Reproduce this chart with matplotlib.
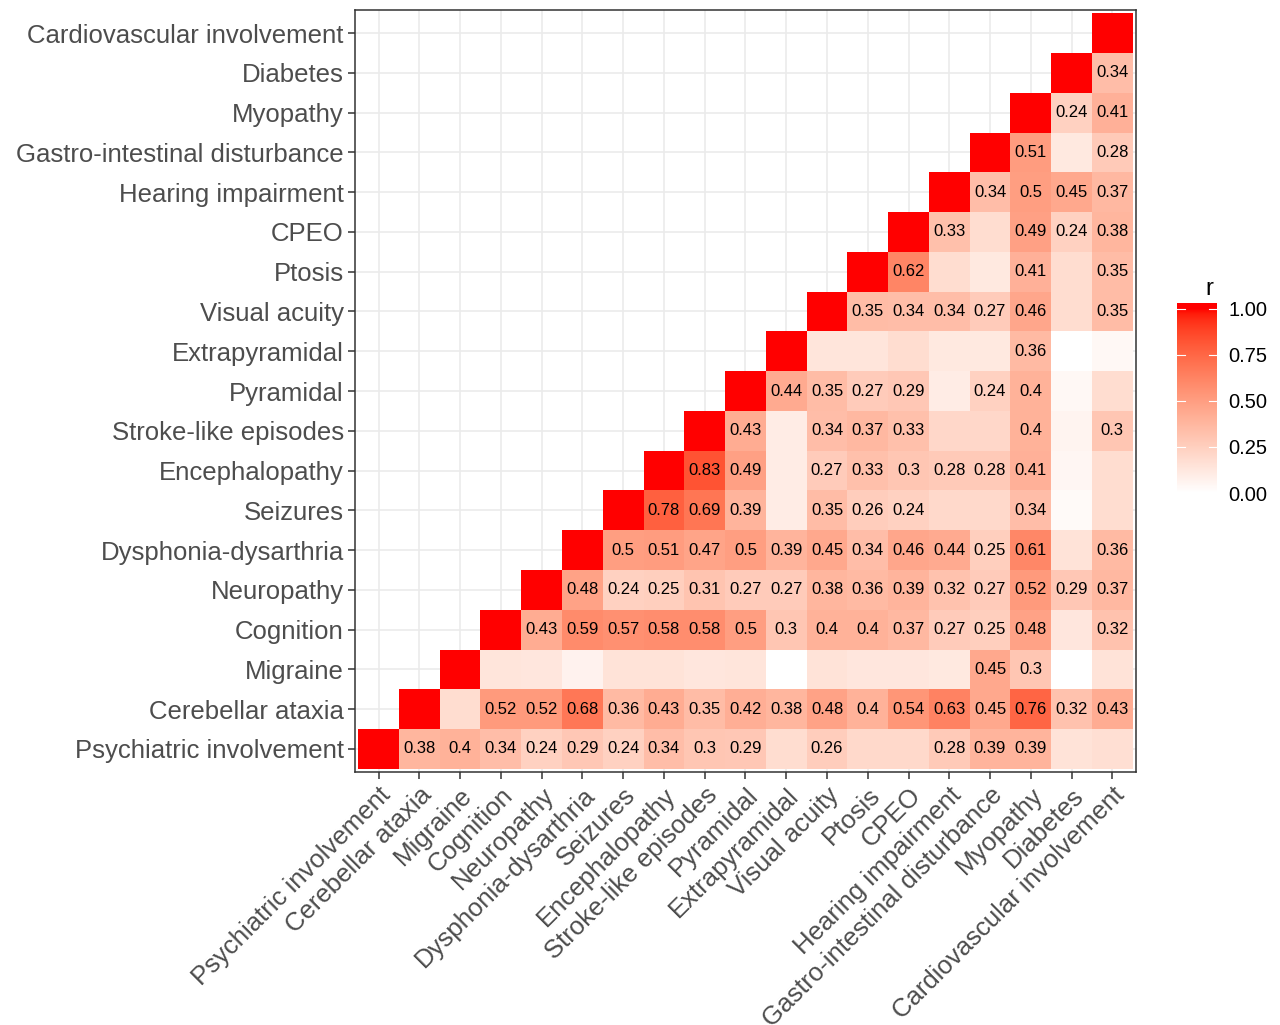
import numpy as np
import matplotlib
matplotlib.use('Agg')
import matplotlib.pyplot as plt
from matplotlib.colors import ListedColormap

plt.rcParams['font.family'] = ['Liberation Sans', 'DejaVu Sans']

# Variáveis (mesma ordem nos dois eixos)
variables = ['Psychiatric involvement', 'Cerebellar ataxia', 'Migraine', 'Cognition',
             'Neuropathy', 'Dysphonia-dysarthria', 'Seizures', 'Encephalopathy',
             'Stroke-like episodes', 'Pyramidal', 'Extrapyramidal', 'Visual acuity',
             'Ptosis', 'CPEO', 'Hearing impairment', 'Gastro-intestinal disturbance',
             'Myopathy', 'Diabetes', 'Cardiovascular involvement']

# Correlações acima da diagonal: linha j -> colunas j+1 .. 18
r_psychiatric = [0.38, 0.40, 0.34, 0.24, 0.29, 0.24, 0.34, 0.30, 0.29, 0.18, 0.26, 0.20, 0.20, 0.28, 0.39, 0.39, 0.15, 0.17]
r_cerebellar = [0.18, 0.52, 0.52, 0.68, 0.36, 0.43, 0.35, 0.42, 0.38, 0.48, 0.40, 0.54, 0.63, 0.45, 0.76, 0.32, 0.43]
r_migraine = [0.14, 0.13, 0.07, 0.15, 0.15, 0.13, 0.14, 0.00, 0.15, 0.13, 0.13, 0.12, 0.45, 0.30, 0.00, 0.15]
r_cognition = [0.43, 0.59, 0.57, 0.58, 0.58, 0.50, 0.30, 0.40, 0.40, 0.37, 0.27, 0.25, 0.48, 0.13, 0.32]
r_neuropathy = [0.48, 0.24, 0.25, 0.31, 0.27, 0.27, 0.38, 0.36, 0.39, 0.32, 0.27, 0.52, 0.29, 0.37]
r_dysphonia = [0.50, 0.51, 0.47, 0.50, 0.39, 0.45, 0.34, 0.46, 0.44, 0.25, 0.61, 0.15, 0.36]
r_seizures = [0.78, 0.69, 0.39, 0.10, 0.35, 0.26, 0.24, 0.20, 0.20, 0.34, 0.03, 0.18]
r_enceph = [0.83, 0.49, 0.10, 0.27, 0.33, 0.30, 0.28, 0.28, 0.41, 0.05, 0.18]
r_stroke = [0.43, 0.10, 0.34, 0.37, 0.33, 0.21, 0.21, 0.40, 0.06, 0.30]
r_pyramidal = [0.44, 0.35, 0.27, 0.29, 0.10, 0.24, 0.40, 0.04, 0.18]
r_extrapyr = [0.14, 0.14, 0.18, 0.12, 0.12, 0.36, 0.00, 0.04]
r_visual = [0.35, 0.34, 0.34, 0.27, 0.46, 0.18, 0.35]
r_ptosis = [0.62, 0.18, 0.12, 0.41, 0.18, 0.35]
r_cpeo = [0.33, 0.18, 0.49, 0.24, 0.38]
r_hearing = [0.34, 0.50, 0.45, 0.37]
r_gi = [0.51, 0.12, 0.28]
r_myopathy = [0.24, 0.41]
r_diabetes = [0.34]

upper_rows = [r_psychiatric, r_cerebellar, r_migraine, r_cognition, r_neuropathy,
              r_dysphonia, r_seizures, r_enceph, r_stroke, r_pyramidal, r_extrapyr,
              r_visual, r_ptosis, r_cpeo, r_hearing, r_gi, r_myopathy, r_diabetes]

sig_cutoff = 0.235  # abaixo disso a célula fica sem rótulo

n = len(variables)
mat = np.full((n, n), np.nan)
for j in range(n):
    mat[j, j] = 1.0
for j, row in enumerate(upper_rows):
    mat[j, j + 1:] = row


# Gradiente branco -> vermelho interpolado em CIELAB (como o ggplot)
def srgb_to_lab(rgb):
    c = np.asarray(rgb, float)
    c = np.where(c <= 0.04045, c / 12.92, ((c + 0.055) / 1.055) ** 2.4)
    m = np.array([[0.4124, 0.3576, 0.1805], [0.2126, 0.7152, 0.0722], [0.0193, 0.1192, 0.9505]])
    xyz = m @ c / np.array([0.95047, 1.0, 1.08883])
    f = np.where(xyz > 0.008856, np.cbrt(xyz), 7.787 * xyz + 16 / 116)
    return np.array([116 * f[1] - 16, 500 * (f[0] - f[1]), 200 * (f[1] - f[2])])


def lab_to_srgb(lab):
    L, a, b = lab
    fy = (L + 16) / 116
    f = np.array([fy + a / 500, fy, fy - b / 200])
    xyz = np.where(f ** 3 > 0.008856, f ** 3, (f - 16 / 116) / 7.787) * np.array([0.95047, 1.0, 1.08883])
    m = np.array([[3.2406, -1.5372, -0.4986], [-0.9689, 1.8758, 0.0415], [0.0557, -0.2040, 1.0570]])
    c = m @ xyz
    c = np.where(c <= 0.0031308, 12.92 * c, 1.055 * np.clip(c, 0, None) ** (1 / 2.4) - 0.055)
    return np.clip(c, 0, 1)


lab_lo = srgb_to_lab([1, 1, 1])
lab_hi = srgb_to_lab([1, 0, 0])
cmap = ListedColormap([lab_to_srgb(lab_lo + t * (lab_hi - lab_lo)) for t in np.linspace(0, 1, 256)])

fig = plt.figure(figsize=(12.8, 10.25), dpi=100)
ax = fig.add_axes([0.2773, 0.2468, 0.6102, 0.7434])

edges = np.arange(n + 1) - 0.5
ax.pcolormesh(edges, edges, np.ma.masked_invalid(mat), cmap=cmap, vmin=0, vmax=1, zorder=2)

for j in range(n):
    for i in range(j + 1, n):
        v = mat[j, i]
        if v >= sig_cutoff:
            ax.text(i, j, f'{v:g}', ha='center', va='center', fontsize=12, color='black', zorder=3)

ax.set_xlim(-0.58, n - 0.42)
ax.set_ylim(-0.58, n - 0.42)
ax.set_xticks(range(n))
ax.set_yticks(range(n))
ax.set_xticklabels(variables, rotation=45, ha='right', va='top', rotation_mode='anchor')
ax.set_yticklabels(variables)
ax.tick_params(axis='both', labelsize=18.5, labelcolor='#4D4D4D', color='#333333', length=5, width=1.1, pad=3)
ax.grid(True, color='#EBEBEB', linewidth=1.2, zorder=0)
ax.set_axisbelow(True)
for s in ax.spines.values():
    s.set_color('#333333')
    s.set_linewidth(1.1)

# Barra de cores (legenda "r")
cax = fig.add_axes([0.9195, 0.519, 0.03125, 0.1853])
grad = np.linspace(0, 1.03, 300).reshape(-1, 1)
cax.imshow(np.clip(grad, 0, 1), cmap=cmap, vmin=0, vmax=1, aspect='auto', origin='lower',
           extent=[0, 1, 0, 1.03])
cax.set_xlim(0, 1)
cax.set_ylim(0, 1.03)
ticks = [0, 0.25, 0.5, 0.75, 1.0]
for t in ticks:
    cax.plot([0, 0.2], [t, t], color='white', linewidth=0.8)
    cax.plot([0.8, 1], [t, t], color='white', linewidth=0.8)
cax.set_xticks([])
cax.set_yticks(ticks)
cax.set_yticklabels([f'{t:.2f}' for t in ticks])
cax.yaxis.tick_right()
cax.tick_params(axis='y', length=0, labelsize=14.5, labelcolor='black', pad=8)
for s in cax.spines.values():
    s.set_visible(False)
fig.text(0.9445, 0.718, 'r', fontsize=17, ha='center', va='center')

fig.savefig('out.png', dpi=100)
